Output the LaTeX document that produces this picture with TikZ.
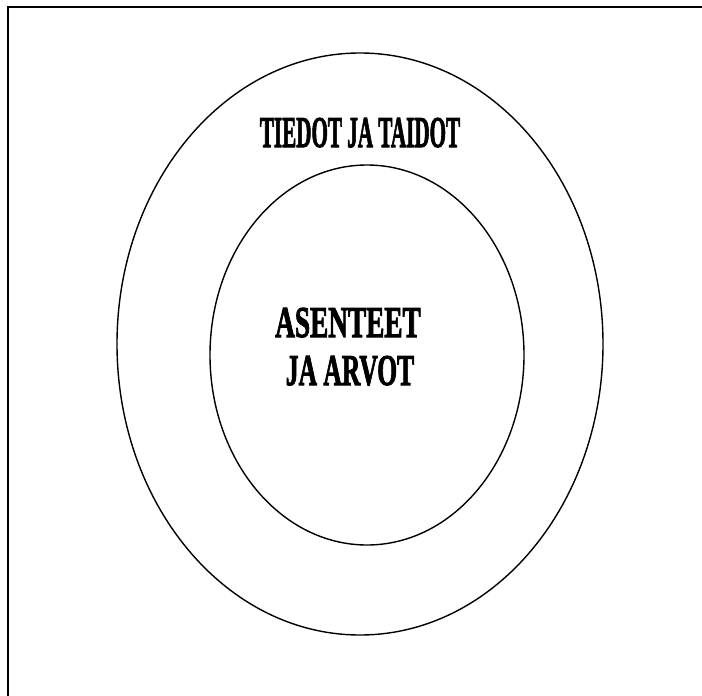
\documentclass[tikz,border=0pt]{standalone}
\usepackage{fontspec}
\setmainfont{Liberation Serif}[BoldFeatures={FakeBold=2.5}]
\begin{document}
\begin{tikzpicture}[x=1pt,y=-1pt,
  ring/.style={draw=black,line width=1.4pt},
  frameline/.style={draw=black,line width=2pt},
  lbl/.style={inner sep=0pt,anchor=base,font=\fontsize{44}{48}\selectfont\bfseries}]
\useasboundingbox (0,0) rectangle (702,696);
\coordinate (tl) at (8,7);
\coordinate (tr) at (702,7);
\coordinate (bl) at (8,696);
\draw[frameline] (tr) -- (tl) -- (bl);
\draw[ring] (360,344) ellipse [x radius=243, y radius=291];
\draw[ring] (367,355) ellipse [x radius=157, y radius=190];
\node[lbl] (outer) at (360,147) {\scalebox{0.48}[1]{TIEDOT JA TAIDOT}};
\node[lbl] (inner1) at (348,337) {\scalebox{0.62}[1]{ASENTEET}};
\node[lbl] (inner2) at (350,385) {\scalebox{0.58}[1]{JA ARVOT}};
\end{tikzpicture}
\end{document}
